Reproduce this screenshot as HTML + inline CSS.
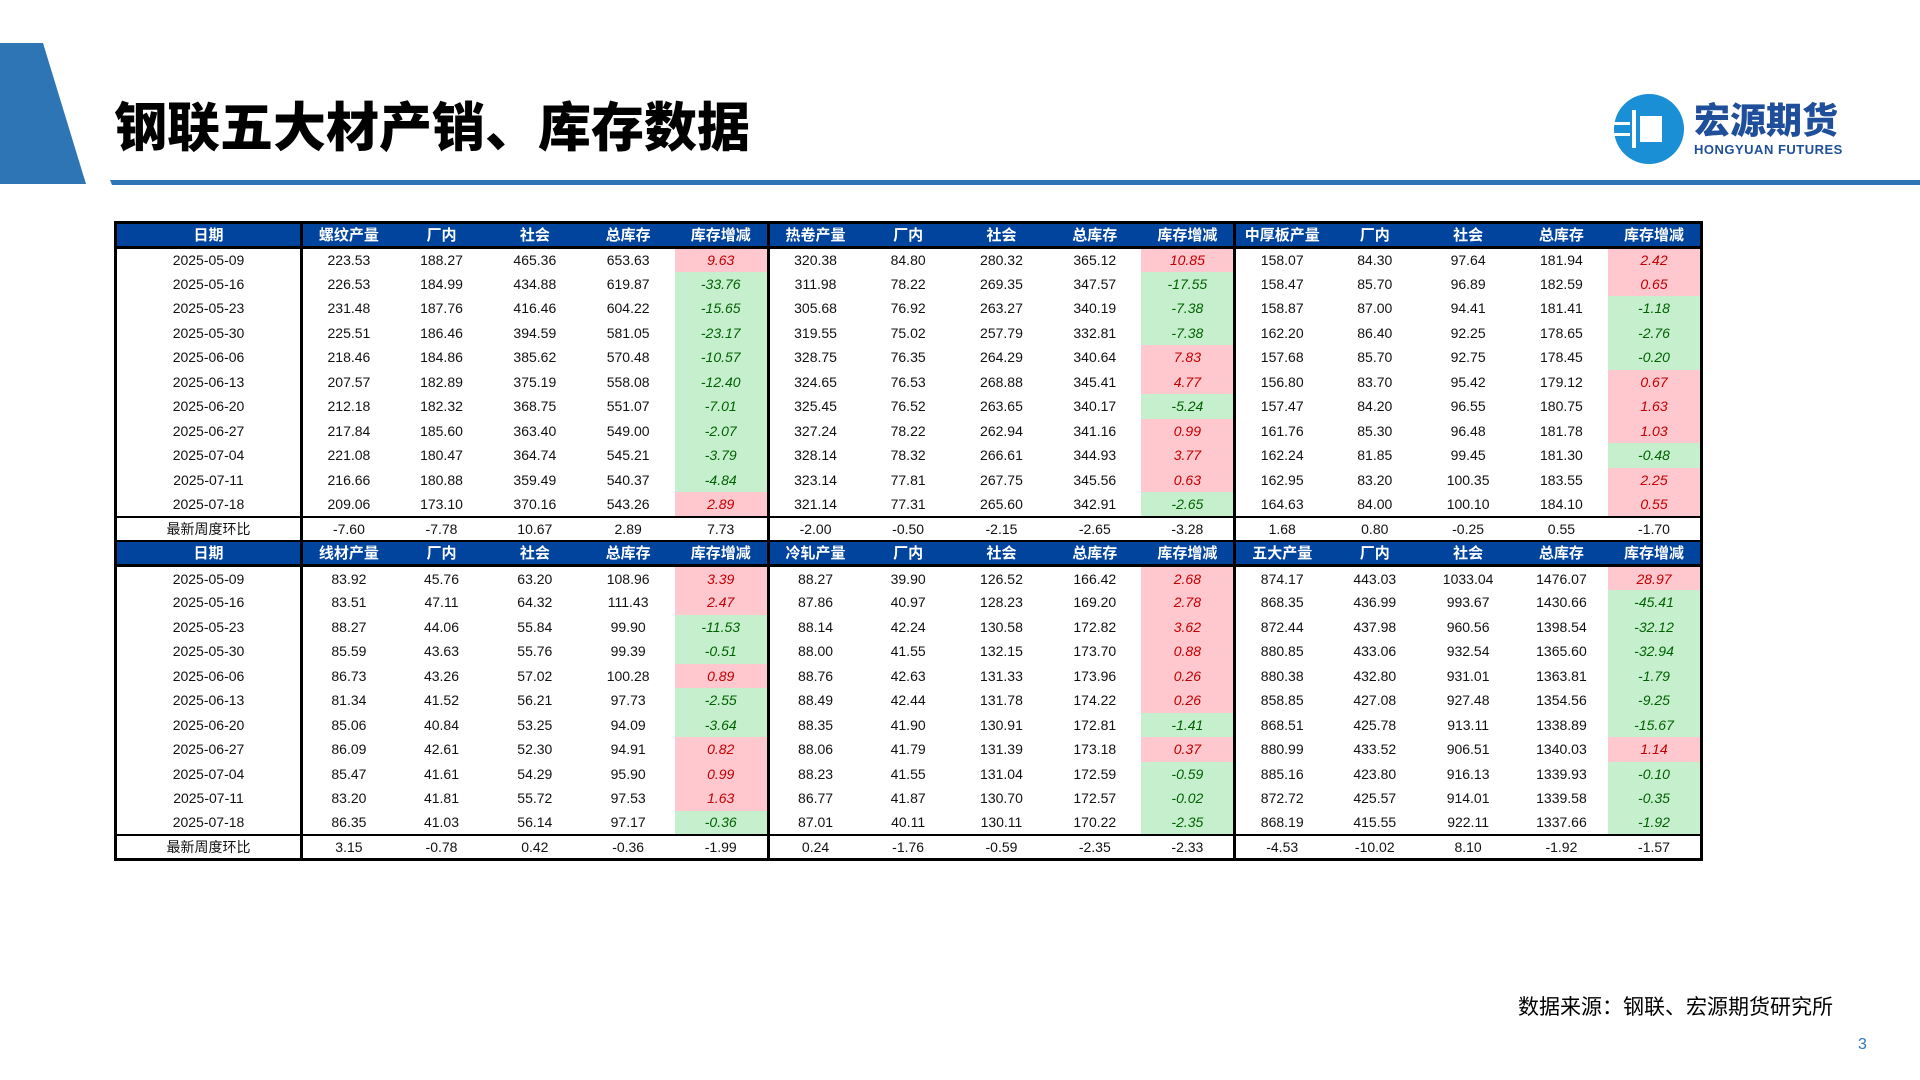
<!DOCTYPE html>
<html><head><meta charset="utf-8">
<style>
*{margin:0;padding:0;box-sizing:border-box}
body{width:1920px;height:1080px;background:#fff;position:relative;overflow:hidden;font-family:"Liberation Sans","Noto Sans CJK SC",sans-serif}
#title{position:absolute;left:114px;top:93px;font-size:53px;font-weight:900;color:#000;font-family:"Noto Sans CJK SC",sans-serif;letter-spacing:0px;line-height:62px}
#tbl{position:absolute;left:114px;top:221px;width:1586px;border-collapse:collapse;table-layout:fixed;border:3px solid #000}
#tbl td{height:24.5px;text-align:center;font-size:14px;color:#111;padding:0;line-height:20px;white-space:nowrap}
#tbl tr.hd td{background:#00449E;color:#fff;font-family:"Noto Sans CJK SC",sans-serif;font-size:15px;font-weight:bold;border-bottom:3px solid #000}
#tbl td.gd{border-right:3px solid #000}
#tbl td.pos{background:#FFC7CE;color:#C00000;font-style:italic}
#tbl td.neg{background:#C6EFCE;color:#006100;font-style:italic}
#tbl tr.last td{border-top:2px solid #000;border-bottom:2px solid #000}
#tbl td.lbl{font-family:"Noto Sans CJK SC",sans-serif;font-size:14px}
</style></head><body>
<svg style="position:absolute;left:0;top:0" width="1920" height="200">
<polygon points="0,43 43,43 86,184 0,184" fill="#2E75B6"/>
<polygon points="110,180 1920,180 1920,185 112,185" fill="#2E75B6"/>
</svg>
<div id="title">钢联五大材产销、库存数据</div>
<div style="position:absolute;left:1612px;top:92px;width:250px;height:74px">
<svg width="74" height="74" style="position:absolute;left:0;top:0"><circle cx="37" cy="37" r="35" fill="#1A8FD6"/><rect x="20" y="18" width="4" height="38" fill="#fff"/><rect x="28" y="24" width="22" height="26" fill="#fff"/><rect x="0" y="30" width="18" height="3" fill="#fff"/><rect x="0" y="41" width="18" height="3" fill="#fff"/></svg>
<div style="position:absolute;left:82px;top:4px;font-size:36px;font-weight:900;color:#1F4E9B;font-family:'Noto Sans CJK SC',sans-serif;line-height:44px">宏源期货</div>
<div style="position:absolute;left:82px;top:50px;font-size:13px;font-weight:bold;color:#1F4E9B;letter-spacing:0.5px">HONGYUAN FUTURES</div>
</div>
<table id="tbl"><tbody id="tb"></tbody></table>
<div style="position:absolute;left:1518px;top:991px;font-size:21px;color:#000;font-family:'Noto Sans CJK SC',sans-serif">数据来源：钢联、宏源期货研究所</div>
<div style="position:absolute;left:1858px;top:1036px;font-size:16px;color:#2E75B6">3</div>
<script>
const dates=["2025-05-09","2025-05-16","2025-05-23","2025-05-30","2025-06-06","2025-06-13","2025-06-20","2025-06-27","2025-07-04","2025-07-11","2025-07-18"];
const header1=["日期","螺纹产量","厂内","社会","总库存","库存增减","热卷产量","厂内","社会","总库存","库存增减","中厚板产量","厂内","社会","总库存","库存增减"];
const header2=["日期","线材产量","厂内","社会","总库存","库存增减","冷轧产量","厂内","社会","总库存","库存增减","五大产量","厂内","社会","总库存","库存增减"];
const rebarProd=[223.53,226.53,231.48,225.51,218.46,207.57,212.18,217.84,221.08,216.66,209.06];
const rebarMill=[188.27,184.99,187.76,186.46,184.86,182.89,182.32,185.60,180.47,180.88,173.10];
const rebarSoc=[465.36,434.88,416.46,394.59,385.62,375.19,368.75,363.40,364.74,359.49,370.16];
const rebarTot=[653.63,619.87,604.22,581.05,570.48,558.08,551.07,549.00,545.21,540.37,543.26];
const rebarChg=[9.63,-33.76,-15.65,-23.17,-10.57,-12.40,-7.01,-2.07,-3.79,-4.84,2.89];
const hrcProd=[320.38,311.98,305.68,319.55,328.75,324.65,325.45,327.24,328.14,323.14,321.14];
const hrcMill=[84.80,78.22,76.92,75.02,76.35,76.53,76.52,78.22,78.32,77.81,77.31];
const hrcSoc=[280.32,269.35,263.27,257.79,264.29,268.88,263.65,262.94,266.61,267.75,265.60];
const hrcTot=[365.12,347.57,340.19,332.81,340.64,345.41,340.17,341.16,344.93,345.56,342.91];
const hrcChg=[10.85,-17.55,-7.38,-7.38,7.83,4.77,-5.24,0.99,3.77,0.63,-2.65];
const plateProd=[158.07,158.47,158.87,162.20,157.68,156.80,157.47,161.76,162.24,162.95,164.63];
const plateMill=[84.30,85.70,87.00,86.40,85.70,83.70,84.20,85.30,81.85,83.20,84.00];
const plateSoc=[97.64,96.89,94.41,92.25,92.75,95.42,96.55,96.48,99.45,100.35,100.10];
const plateTot=[181.94,182.59,181.41,178.65,178.45,179.12,180.75,181.78,181.30,183.55,184.10];
const plateChg=[2.42,0.65,-1.18,-2.76,-0.20,0.67,1.63,1.03,-0.48,2.25,0.55];
const last1=[-7.60,-7.78,10.67,2.89,7.73,-2.00,-0.50,-2.15,-2.65,-3.28,1.68,0.80,-0.25,0.55,-1.70];
const wireProd=[83.92,83.51,88.27,85.59,86.73,81.34,85.06,86.09,85.47,83.20,86.35];
const wireMill=[45.76,47.11,44.06,43.63,43.26,41.52,40.84,42.61,41.61,41.81,41.03];
const wireSoc=[63.20,64.32,55.84,55.76,57.02,56.21,53.25,52.30,54.29,55.72,56.14];
const wireTot=[108.96,111.43,99.90,99.39,100.28,97.73,94.09,94.91,95.90,97.53,97.17];
const wireChg=[3.39,2.47,-11.53,-0.51,0.89,-2.55,-3.64,0.82,0.99,1.63,-0.36];
const crcProd=[88.27,87.86,88.14,88.00,88.76,88.49,88.35,88.06,88.23,86.77,87.01];
const crcMill=[39.90,40.97,42.24,41.55,42.63,42.44,41.90,41.79,41.55,41.87,40.11];
const crcSoc=[126.52,128.23,130.58,132.15,131.33,131.78,130.91,131.39,131.04,130.70,130.11];
const crcTot=[166.42,169.20,172.82,173.70,173.96,174.22,172.81,173.18,172.59,172.57,170.22];
const crcChg=[2.68,2.78,3.62,0.88,0.26,0.26,-1.41,0.37,-0.59,-0.02,-2.35];
const fiveProd=[874.17,868.35,872.44,880.85,880.38,858.85,868.51,880.99,885.16,872.72,868.19];
const fiveMill=[443.03,436.99,437.98,433.06,432.80,427.08,425.78,433.52,423.80,425.57,415.55];
const fiveSoc=[1033.04,993.67,960.56,932.54,931.01,927.48,913.11,906.51,916.13,914.01,922.11];
const fiveTot=[1476.07,1430.66,1398.54,1365.60,1363.81,1354.56,1338.89,1340.03,1339.93,1339.58,1337.66];
const fiveChg=[28.97,-45.41,-32.12,-32.94,-1.79,-9.25,-15.67,1.14,-0.10,-0.35,-1.92];
const last2=[3.15,-0.78,0.42,-0.36,-1.99,0.24,-1.76,-0.59,-2.35,-2.33,-4.53,-10.02,8.10,-1.92,-1.57];
const block1=[rebarProd,rebarMill,rebarSoc,rebarTot,rebarChg,hrcProd,hrcMill,hrcSoc,hrcTot,hrcChg,plateProd,plateMill,plateSoc,plateTot,plateChg];
const block2=[wireProd,wireMill,wireSoc,wireTot,wireChg,crcProd,crcMill,crcSoc,crcTot,crcChg,fiveProd,fiveMill,fiveSoc,fiveTot,fiveChg];

const tb=document.getElementById('tb');
const tbl=document.getElementById('tbl');
const cg=document.createElement('colgroup');
for(let i=0;i<16;i++){const c=document.createElement('col');c.style.width=(i==0?186:93.33)+'px';cg.appendChild(c);}
tbl.insertBefore(cg,tb);
function gdiv(td,i){if(i==0||i==5||i==10)td.classList.add('gd');}
function addHeader(h){
  const tr=document.createElement('tr');tr.className='hd';
  
  
  h.forEach((t,i)=>{const td=document.createElement('td');td.textContent=t;gdiv(td,i);
    
    
    tr.appendChild(td);});
  tb.appendChild(tr);
}
function addBlock(block,last){
  dates.forEach((d,r)=>{
    const tr=document.createElement('tr');
    
    
    const td0=document.createElement('td');td0.textContent=d;gdiv(td0,0);
    
    
    tr.appendChild(td0);
    block.forEach((arr,c)=>{
      const td=document.createElement('td');const v=arr[r];td.textContent=v.toFixed(2);
      if(c%5==4)td.classList.add(v>=0?'pos':'neg');
      gdiv(td,c+1);
      
      
      tr.appendChild(td);
    });
    tb.appendChild(tr);
  });
  const tr=document.createElement('tr');tr.className='last';
  
  
  const td0=document.createElement('td');td0.textContent='最新周度环比';td0.className='lbl';gdiv(td0,0);
  
  
  tr.appendChild(td0);
  last.forEach((v,c)=>{const td=document.createElement('td');td.textContent=v.toFixed(2);gdiv(td,c+1);
    
    
    tr.appendChild(td);});
  tb.appendChild(tr);
}
addHeader(header1);addBlock(block1,last1);
addHeader(header2);addBlock(block2,last2);
</script>
</body></html>
